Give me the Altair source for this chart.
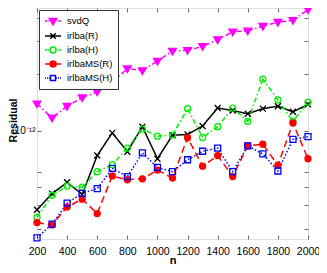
import altair as alt
import pandas as pd

# ---- data ----
n_values = [200, 300, 400, 500, 600, 700, 800, 900, 1000, 1100,
            1200, 1300, 1400, 1500, 1600, 1700, 1800, 1900, 2000]
series_names = ["svdQ", "irlba(R)", "irlba(H)", "irlbaMS(R)", "irlbaMS(H)"]

svdq = [1.39e-12, 1.17e-12, 1.35e-12, 1.50e-12, 1.61e-12, 1.81e-12, 2.14e-12,
        2.09e-12, 2.35e-12, 2.65e-12, 2.68e-12, 2.81e-12, 3.05e-12, 3.36e-12,
        3.40e-12, 3.60e-12, 3.78e-12, 3.87e-12, 4.41e-12]
irlba_r = [3.79e-13, 4.62e-13, 5.31e-13, 4.58e-13, 7.37e-13, 9.73e-13, 7.73e-13,
           1.05e-12, 7.09e-13, 9.46e-13, 9.54e-13, 1.06e-12, 1.32e-12, 1.28e-12,
           1.23e-12, 1.31e-12, 1.35e-12, 1.26e-12, 1.38e-12]
irlba_h = [3.45e-13, 4.53e-13, 5.07e-13, 5.00e-13, 6.05e-13, 6.60e-13, 8.08e-13,
           1.02e-12, 9.35e-13, 9.48e-13, 1.31e-12, 9.20e-13, 1.05e-12, 1.32e-12,
           1.12e-12, 1.88e-12, 1.46e-12, 1.12e-12, 1.42e-12]
irlbams_r = [3.24e-13, 3.15e-13, 3.92e-13, 4.32e-13, 3.62e-13, 5.74e-13, 5.48e-13,
             5.54e-13, 6.17e-13, 5.59e-13, 9.17e-13, 6.47e-13, 7.37e-13, 5.70e-13,
             8.30e-13, 8.47e-13, 6.55e-13, 1.10e-12, 7.09e-13]
irlbams_h = [2.69e-13, 3.18e-13, 4.11e-13, 4.64e-13, 4.91e-13, 6.30e-13, 5.70e-13,
             7.61e-13, 6.37e-13, 6.05e-13, 7.00e-13, 7.77e-13, 8.08e-13, 6.05e-13,
             8.30e-13, 7.52e-13, 6.10e-13, 8.99e-13, 9.29e-13]

x_ticks = [200, 400, 600, 800, 1000, 1200, 1400, 1600, 1800, 2000]
y_ticks = [3e-13, 4e-13, 5e-13, 6e-13, 1e-12, 2e-12, 3e-12, 4e-12]

# ---- styles ----
colors = ["#ff00ff", "#000000", "#00ee00", "#ff0000", "#0000ff"]
fills = ["#ff00ff", "transparent", "transparent", "#ff0000", "transparent"]
dashes = [[5, 2.5, 1.5, 2.5], [1, 0], [5, 2.5, 1.5, 2.5], [7, 4], [1.5, 2]]
marker_shapes = ["M-1.3,-0.9L1.3,-0.9L0,1.3Z", "M-1,-1L1,1M-1,1L1,-1",
                 "circle", "circle", "square"]

circ = "M0.6,0A0.6,0.6 0 1,1 -0.6,0A0.6,0.6 0 1,1 0.6,0Z"
legend_paths = [
    "M-1.6,0H-1.1M-0.95,0H-0.8M0.8,0H0.95M1.1,0H1.6M-0.75,-0.5L0.75,-0.5L0,0.75Z",
    "M-1.6,0H1.6M-0.55,-0.55L0.55,0.55M-0.55,0.55L0.55,-0.55",
    "M-1.6,0H-1.1M-0.95,0H-0.8M0.8,0H0.95M1.1,0H1.6" + circ,
    "M-1.6,0H-0.75M0.75,0H1.6" + circ,
    "M-1.6,0H-1.4M-1.2,0H-1.0M-0.8,0H-0.6M0.6,0H0.8M1.0,0H1.2M1.4,0H1.6M-0.5,-0.5H0.5V0.5H-0.5Z",
]

series_values = {
    "svdQ": svdq, "irlba(R)": irlba_r, "irlba(H)": irlba_h,
    "irlbaMS(R)": irlbams_r, "irlbaMS(H)": irlbams_h,
}

rows = []
for name in series_names:
    for nv, v in zip(n_values, series_values[name]):
        rows.append({"n": nv, "residual": v, "series": name})
df = pd.DataFrame(rows)

font = "Liberation Sans"
x_scale = alt.Scale(domain=[200, 2000], nice=False)
y_scale = alt.Scale(type="log", domain=[2.65e-13, 4.5e-12], nice=False)

legend = alt.Legend(
    title=None, orient="none", legendX=2, legendY=2,
    fillColor="white", strokeColor="#333333", padding=5, cornerRadius=0,
    symbolSize=100, symbolStrokeWidth=1.5, symbolOffset=3, labelOffset=8,
    symbolOpacity=1,
    rowPadding=2, labelFont=font, labelFontSize=9.5, labelColor="black",
)

x_bottom = alt.X("n:Q", scale=x_scale, axis=alt.Axis(
    values=x_ticks, title="n", format="d", tickSize=4, offset=-4, labelPadding=7,
    domain=False, grid=False, labelFont=font, labelFontSize=10.5,
    labelColor="black", titleFont=font, titleFontSize=11,
    titleFontWeight="bold", titleColor="black", titleY=25,
    titleBaseline="middle", labelFlush=False, labelOverlap=False,
    tickColor="#666666"))
y_left = alt.Y("residual:Q", scale=y_scale, axis=alt.Axis(
    values=y_ticks, title="Residual", tickSize=4, offset=-4, labelPadding=2,
    labelExpr="abs(log(datum.value)/LN10 + 12) < 0.01 ? '10⁻¹²' : ''",
    domain=False, grid=False, labelFont=font, labelFontSize=10,
    labelColor="black", titleFont=font, titleFontSize=10.5,
    titleFontWeight="bold", titleColor="black", titleX=-28, titleY=112,
    titleBaseline="middle", titleAngle=-90, tickColor="#666666",
    labelOverlap=False))
x_top = alt.X("n:Q", scale=x_scale, axis=alt.Axis(
    orient="top", values=x_ticks, labels=False, title=None, tickSize=4,
    offset=-4, domain=False, grid=False, tickColor="#666666"))
y_right = alt.Y("residual:Q", scale=y_scale, axis=alt.Axis(
    orient="right", values=y_ticks, labels=False, title=None, tickSize=4,
    offset=-4, domain=False, grid=False, tickColor="#666666"))
x_none = alt.X("n:Q", scale=x_scale, axis=None)
y_none = alt.Y("residual:Q", scale=y_scale, axis=None)

# invisible layer that carries the left/bottom axes and the legend
legend_layer = alt.Chart(df).mark_point(filled=False, opacity=0).encode(
    x=x_bottom,
    y=y_left,
    stroke=alt.Stroke("series:N", scale=alt.Scale(domain=series_names, range=colors), legend=legend),
    fill=alt.Fill("series:N", scale=alt.Scale(domain=series_names, range=fills), legend=legend),
    shape=alt.Shape("series:N", scale=alt.Scale(domain=series_names, range=legend_paths), legend=legend),
)

layers = [legend_layer]
# lines, each series from its own small table
for i, name in enumerate(series_names):
    sdf = pd.DataFrame({"n": n_values, "residual": series_values[name]})
    layers.append(
        alt.Chart(sdf).mark_line(
            stroke=colors[i], strokeDash=dashes[i], strokeWidth=1.5,
            opacity=1, strokeOpacity=1, interpolate="linear"
        ).encode(x=x_none, y=y_none)
    )
for i, name in enumerate(series_names):
    last = i == len(series_names) - 1
    layers.append(
        alt.Chart(df).transform_filter(alt.datum.series == name).mark_point(
            shape=marker_shapes[i], stroke=colors[i], fill=fills[i],
            size=36, strokeWidth=1.3, opacity=1
        ).encode(x=x_top if last else x_none, y=y_right if last else y_none)
    )

chart = alt.layer(*layers).resolve_axis(
    x="independent", y="independent"
).properties(
    width=271, height=231,
    autosize=alt.AutoSizeParams(type="none"),
    padding={"left": 29, "top": 0, "right": 11, "bottom": 26},
).configure_view(stroke="#777777", strokeWidth=1).configure(background="white")

chart.save("out.html", embed_options={"renderer": "svg", "actions": False})
